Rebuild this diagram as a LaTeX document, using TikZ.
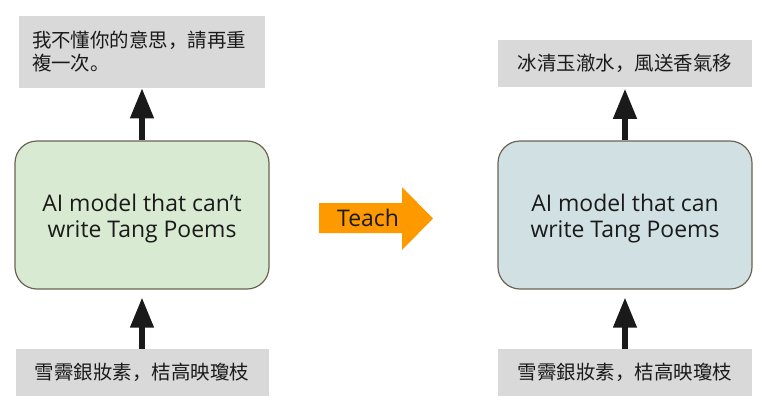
\documentclass[tikz,border=0pt]{standalone}
\usepackage{fontspec}
\setmainfont{Open Sans}
\newfontfamily\cjk{Noto Sans CJK SC}
\usetikzlibrary{arrows.meta}
\definecolor{graybox}{HTML}{D9D9D9}
\definecolor{greenfill}{HTML}{D9EAD3}
\definecolor{bluefill}{HTML}{D0E0E3}
\definecolor{bordercol}{HTML}{6B6353}
\definecolor{arrowcol}{HTML}{1A1A1A}
\definecolor{teachcol}{HTML}{FF9900}
\definecolor{txt}{HTML}{1A1A1A}
\tikzset{
  gbox/.style={fill=graybox, draw=none, text=txt, inner sep=0pt,
    font=\cjk\fontsize{14.6pt}{17.25pt}\selectfont},
  model/.style={draw=bordercol, line width=0.9pt, rounded corners=16.5pt,
    minimum width=190.5pt, minimum height=111pt},
  modeltext/.style={align=center, text=txt, inner sep=0pt,
    font=\fontsize{17.2pt}{19.5pt}\selectfont},
  upflow/.style={draw=arrowcol, line width=4pt,
    -{Triangle[width=17pt,length=22.5pt]}},
}
\begin{document}
\begin{tikzpicture}[x=0.75pt,y=-0.75pt]
\useasboundingbox (0,0) rectangle (765,405);
% left column
\node[gbox, minimum width=184.5pt, minimum height=54pt, text width=165pt,
  inner xsep=9.75pt, align=left] (tl) at (142,52)
  {我不懂你的意思，請再重\\複一次。};
\node[model, fill=greenfill] (lm) at (142,215) {};
\node[modeltext] (lmt) at ([yshift=-3pt]lm.center)
  {AI model that can’t\\write Tang Poems};
\node[gbox, minimum width=189.75pt, minimum height=35.25pt] (lb) at (142,372.5)
  {雪霽銀妝素，桔高映瓊枝};
% right column
\node[gbox, minimum width=190.5pt, minimum height=35.25pt] (tr) at (625,63)
  {冰清玉澈水，風送香氣移};
\node[model, fill=bluefill] (rm) at (625,215) {};
\node[modeltext] (rmt) at ([yshift=-3pt]rm.center)
  {AI model that can\\write Tang Poems};
\node[gbox, minimum width=190.5pt, minimum height=35.25pt] (rb) at (625,372.5)
  {雪霽銀妝素，桔高映瓊枝};
% vertical arrows
\draw[upflow] (lm.north) -- (tl.south);
\draw[upflow, shorten >=6pt] (lb.north) -- (lm.south);
\draw[upflow, shorten >=1.5pt] (rm.north) -- (tr.south);
\draw[upflow, shorten >=6pt] (rb.north) -- (rm.south);
% teach arrow
\fill[teachcol] (319,203) -- (402,203) -- (402,187) -- (433,218.5)
  -- (402,250) -- (402,233) -- (319,233) -- cycle;
\node[text=txt, font=\fontsize{17.2pt}{19.5pt}\selectfont, inner sep=0pt] (teach) at (368,218) {Teach};
\end{tikzpicture}
\end{document}
